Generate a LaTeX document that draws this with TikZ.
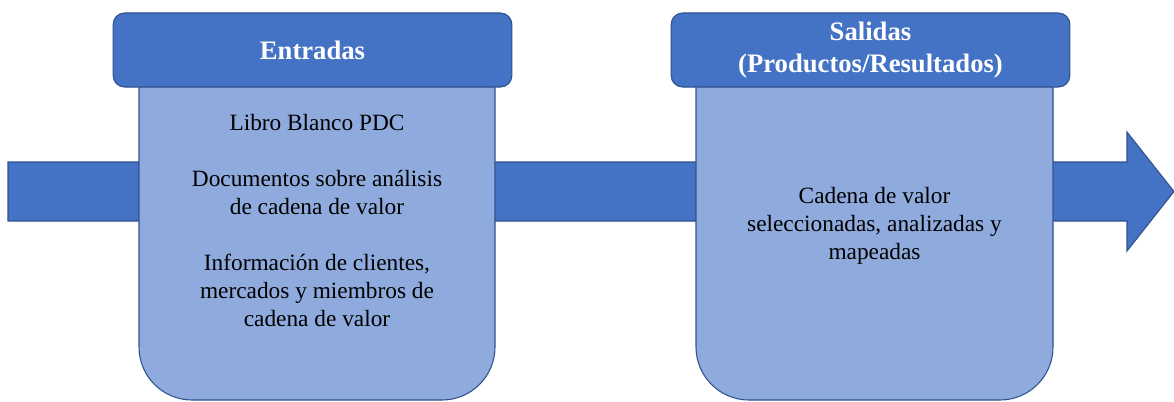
\documentclass[tikz,border=0pt]{standalone}
\usepackage{fontspec}
\setmainfont{Liberation Serif}
\usepackage{xcolor}
\definecolor{darkblue}{RGB}{68, 114, 196}
\definecolor{lightblue}{RGB}{143, 170, 220}
\definecolor{edgeblue}{RGB}{47, 82, 143}

\begin{document}
\begin{tikzpicture}[x=0.75pt, y=0.75pt, line width=0.8pt,
    header/.style = {draw=edgeblue, fill=darkblue, text=white, rounded corners=3mm, minimum width=299pt, minimum height=55.5pt, align=center, font=\fontsize{20}{24}\selectfont\bfseries},
    entry/.style = {text=black, align=center, font=\fontsize{17.5}{21}\selectfont},
    panel/.style = {draw=edgeblue, fill=lightblue}]
        \useasboundingbox (0,0) rectangle (1174,401);
        \draw[draw=edgeblue, fill=darkblue]
                plot coordinates{(8,239) (1127,239) (1127,269) (1174,209.5) (1127,150) (1127,180) (8,180)} -- cycle;
        \draw[panel] (139,330) -- (139,54) arc[start angle=180, end angle=270, radius=39.75pt]
                -- (442,1) arc[start angle=270, end angle=360, radius=39.75pt] -- (495,330) -- cycle;
        \draw[panel] (696,330) -- (696,54) arc[start angle=180, end angle=270, radius=39.75pt]
                -- (1000,1) arc[start angle=270, end angle=360, radius=39.75pt] -- (1053,330) -- cycle;
        \node[header] (entradas) at (312.5, 351) {Entradas};
        \node[header] (salidas) at (870.5, 351) {Salidas\\(Productos/Resultados)};
        \node[entry] (inputs) at (317, 180) {Libro Blanco PDC\\[21pt]Documentos sobre análisis\\de cadena de valor\\[21pt]Información de clientes,\\mercados y miembros de\\cadena de valor};
        \node[entry] (outputs) at (874.5, 175) {Cadena de valor\\seleccionadas, analizadas y\\mapeadas};
    \end{tikzpicture}
\end{document}
